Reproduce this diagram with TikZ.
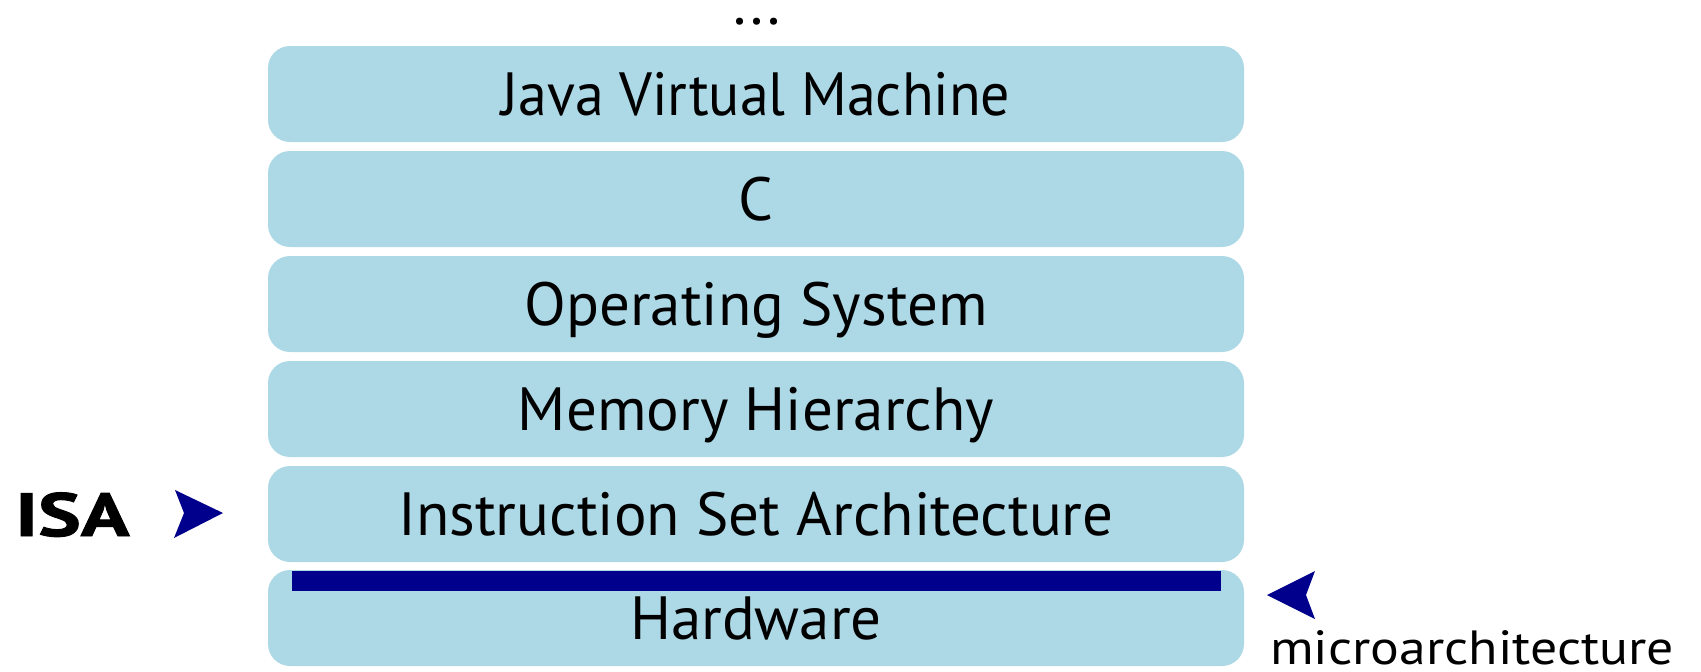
\documentclass[tikz,border=0pt]{standalone}
\usepackage{fontspec}
\setmainfont{PT Sans}
\newfontfamily\labelfont{PT Sans}
\newfontfamily\narrowlabelfont[FakeStretch=0.95]{PT Sans}
\newfontfamily\microfont[FakeStretch=1.12]{PT Sans}
\newfontfamily\boldlabelfont[FakeStretch=1.32,FakeBold=1.6]{PT Sans Bold}
\definecolor{layerblue}{RGB}{173,216,230}
\definecolor{barblue}{RGB}{0,0,140}
\begin{document}
\begin{tikzpicture}[x=1pt,y=-1pt,
  layer/.style={fill=layerblue, draw=none, rounded corners=22pt,
    minimum width=976pt, minimum height=96pt, inner sep=0pt,
    text height=43pt, text depth=0pt,
    font=\labelfont\fontsize{61}{61}\selectfont},
  barbox/.style={fill=barblue, draw=none, inner sep=0pt,
    minimum width=929pt, minimum height=20pt},
  marker/.style={fill=barblue, draw=none},
  sidelabel/.style={inner sep=0pt, anchor=base west}]
\useasboundingbox (0,0) rectangle (1701,672);
\node[inner sep=0pt, anchor=base, font=\labelfont\fontsize{61}{61}\selectfont] (dots) at (757,24) {...};
\node[layer, font=\narrowlabelfont\fontsize{61}{61}\selectfont] (jvm) at (756,94) {Java Virtual Machine};
\node[layer] (c) at (756,199) {C};
\node[layer] (os) at (756,304) {Operating System};
\node[layer] (mem) at (756,409) {Memory Hierarchy};
\node[layer] (isa) at (756,514) {Instruction Set Architecture};
\node[layer] (hw) at (756,618) {Hardware};
\node[barbox, anchor=north west] (mbar) at (292,571) {};
\node[sidelabel, font=\boldlabelfont\fontsize{61}{61}\selectfont] (isalabel) at (15,536) {ISA};
\node[sidelabel, font=\microfont\fontsize{48}{48}\selectfont] (microlabel) at (1270,664) {microarchitecture};
\fill[marker] (223,513) -- (175,490) -- (184,513) -- (174,538) -- cycle;
\fill[marker] (1267,595) -- (1315,571) -- (1306,595) -- (1315,619) -- cycle;
\end{tikzpicture}
\end{document}
